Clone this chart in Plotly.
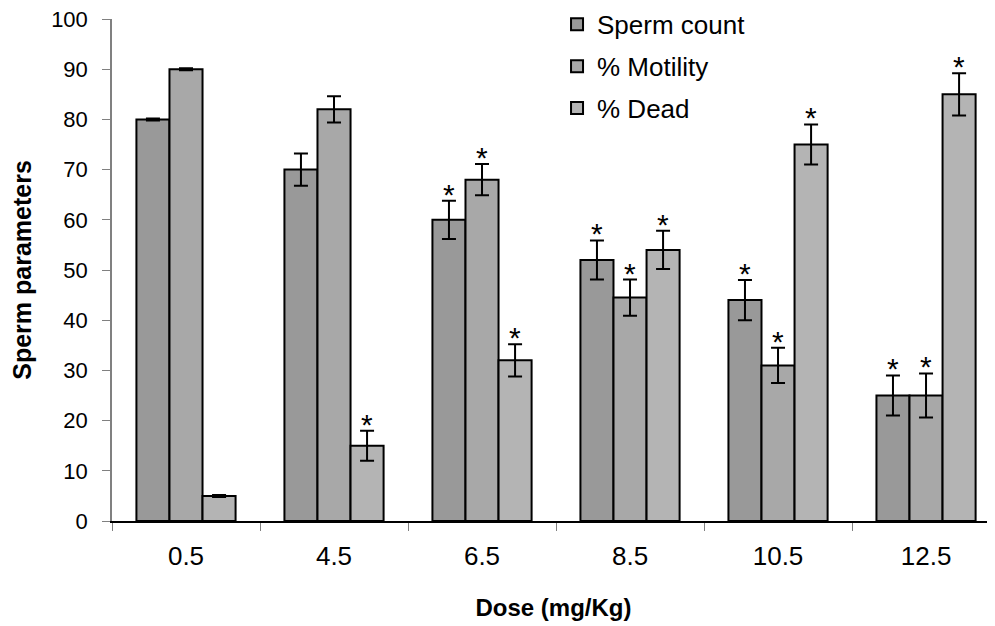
import plotly.graph_objects as go

doses = ["0.5", "4.5", "6.5", "8.5", "10.5", "12.5"]
sperm_count = [80, 70, 60, 52, 44, 25]
sperm_count_err = [0.2, 3.2, 3.8, 3.9, 4.0, 4.0]
motility = [90, 82, 68, 44.5, 31, 25]
motility_err = [0.2, 2.6, 3.1, 3.6, 3.5, 4.4]
dead = [5, 15, 32, 54, 75, 85]
dead_err = [0.2, 3.0, 3.2, 3.8, 4.0, 4.2]
sig_count = [False, False, True, True, True, True]
sig_motility = [False, False, True, True, True, True]
sig_dead = [False, True, True, True, True, True]

series = [
    ("Sperm count", sperm_count, sperm_count_err, sig_count, "#999999"),
    ("% Motility", motility, motility_err, sig_motility, "#a8a8a8"),
    ("% Dead", dead, dead_err, sig_dead, "#b4b4b4"),
]

fig = go.Figure()
for k, (name, vals, errs, sig, col) in enumerate(series):
    fig.add_trace(go.Bar(
        x=doses, y=vals, name=name, legendgroup=name,
        marker=dict(color=col, line=dict(color="black", width=2)),
        error_y=dict(type="data", array=errs, color="black", thickness=2, width=7),
    ))

bargap = 0.33
w = (1 - bargap) / 3
annotations = []
for k, (name, vals, errs, sig, col) in enumerate(series):
    for i, s in enumerate(sig):
        if s:
            annotations.append(dict(
                x=i + (k - 1) * w, y=vals[i] + errs[i], xref="x", yref="y",
                text="*", showarrow=False, yanchor="bottom", yshift=-12,
                font=dict(size=30, color="black", family="Liberation Sans, Arial"),
            ))

fig.update_layout(
    width=987, height=618,
    margin=dict(l=104, r=0, t=10.7, b=104.7, autoexpand=False),
    plot_bgcolor="white", paper_bgcolor="white",
    font=dict(family="Liberation Sans, Arial", color="black"),
    barmode="group", bargap=bargap, bargroupgap=0,
    showlegend=True,
    legend=dict(x=0.504, y=1.036, xref="paper", yref="paper",
                xanchor="left", yanchor="top",
                font=dict(size=26), bgcolor="rgba(0,0,0,0)",
                tracegroupgap=5, itemclick=False),
    annotations=annotations,
)
fig.update_xaxes(
    type="category", range=[-0.5, 5.466], automargin=False,
    tickson="boundaries", ticks="outside", ticklen=8, tickcolor="#808080", tickwidth=1,
    showline=True, linecolor="black", linewidth=1.5,
    tickfont=dict(size=26), ticklabelstandoff=11, showgrid=False,
    ticklabeloverflow="allow",
    title=dict(text="<b>Dose (mg/Kg)</b>", font=dict(size=24), standoff=29),
)
fig.update_yaxes(
    range=[0, 100], dtick=10, ticks="outside", ticklen=8, tickcolor="#808080",
    showline=True, linecolor="#808080", linewidth=1.5, automargin=False,
    tickfont=dict(size=22), ticklabelstandoff=10, showgrid=False, zeroline=False,
    ticklabeloverflow="allow",
    title=dict(text="<b>Sperm parameters</b>", font=dict(size=25), standoff=14),
)
fig.write_html("out.html")
